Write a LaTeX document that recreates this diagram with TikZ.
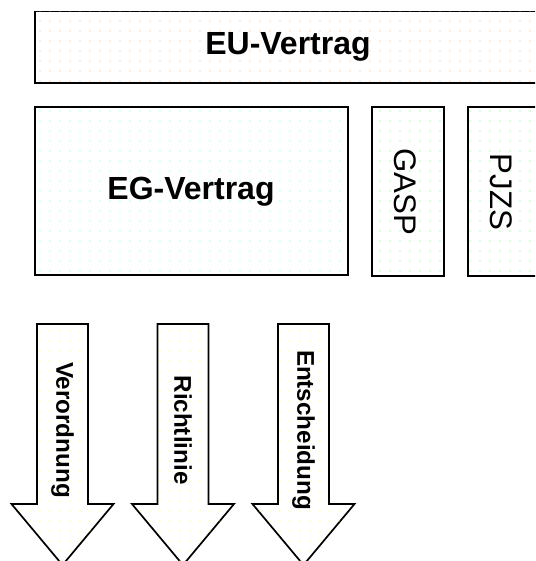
\documentclass[tikz,border=0pt]{standalone}
\usepackage{fontspec}
\setmainfont{Liberation Sans}
\usetikzlibrary{patterns.meta}
\tikzdeclarepattern{
  name=sparsedots,
  type=uncolored,
  bounding box={(-1pt,-1pt) and (1pt,1pt)},
  tile size={(10pt,10pt)},
  code={\fill (0,0) circle (0.6pt);}
}
\tikzset{
  frame/.style={draw=black, line width=1.7pt, fill=white},
  bigtxt/.style={font=\fontsize{32}{32}\selectfont\bfseries},
  sidetxt/.style={font=\fontsize{31.2}{31.2}\selectfont, rotate=-90},
  arrtxt/.style={font=\fontsize{24.2}{24.2}\selectfont\bfseries, rotate=-90},
  dotsor/.style={pattern={sparsedots}, pattern color=orange!55},
  dotscy/.style={pattern={sparsedots}, pattern color=cyan!55},
  dotsgr/.style={pattern={sparsedots}, pattern color=green!55},
  dotsye/.style={pattern={sparsedots}, pattern color=yellow!70},
}
\begin{document}
\begin{tikzpicture}[x=1pt,y=-1pt]
\useasboundingbox (0,0) rectangle (535,561);
\clip (0,0) rectangle (535,561);
% boxes
\draw[frame] (35,11.5) rectangle (541,83);
\fill[dotsor] (35,11.5) rectangle (541,83);
\draw[frame] (35,107) rectangle (348,275);
\fill[dotscy] (35,107) rectangle (348,275);
\draw[frame] (372,107) rectangle (444,276);
\fill[dotsgr] (372,107) rectangle (444,276);
\draw[frame] (468,107) rectangle (537,276);
\fill[dotsgr] (468,107) rectangle (537,276);
\node[bigtxt] (eu) at (288,47) {EU-Vertrag};
\node[bigtxt] (eg) at (191,192) {EG-Vertrag};
\node[sidetxt] (gasp) at (405,192) {GASP};
\node[sidetxt] (pjzs) at (501,192) {PJZS};
% arrows
\foreach \c/\n in {62.5/a1,183/a2,303.5/a3}{
  \draw[frame, line join=miter]
    (\c-25.5,324) -- (\c+25.5,324) -- (\c+25.5,504) -- (\c+51,504)
    -- (\c,565) -- (\c-51,504) -- (\c-25.5,504) -- cycle;
  \fill[dotsye]
    (\c-25.5,324) -- (\c+25.5,324) -- (\c+25.5,504) -- (\c+51,504)
    -- (\c,565) -- (\c-51,504) -- (\c-25.5,504) -- cycle;
}
\node[arrtxt] (vo) at (62.5,430) {Verordnung};
\node[arrtxt] (rl) at (183,430) {Richtlinie};
\node[arrtxt] (es) at (303.5,430) {Entscheidung};
\end{tikzpicture}
\end{document}
